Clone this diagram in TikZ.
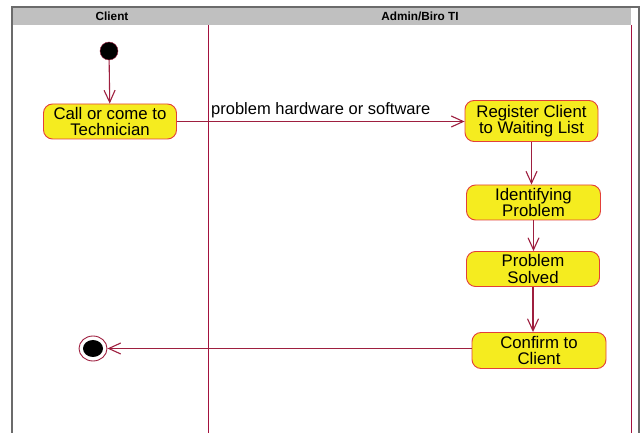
\documentclass[tikz,border=0pt]{standalone}
\usepackage{fontspec}
\setmainfont{Liberation Sans}
\usetikzlibrary{arrows.meta,positioning,shapes.geometric}
\definecolor{lanered}{HTML}{A3123E}
\definecolor{flowred}{HTML}{9E1F3F}
\definecolor{boxyellow}{HTML}{F5EC1F}
\definecolor{boxborder}{HTML}{E2403A}
\definecolor{headgray}{HTML}{C0C0C0}
\definecolor{framegray}{HTML}{6B6B6B}

\begin{document}
\begin{tikzpicture}[x=1pt,y=-1pt,
    activity/.style={rectangle, rounded corners=9pt, draw=boxborder, fill=boxyellow, line width=0.9pt,
      minimum width=133pt, minimum height=35pt, align=center, inner sep=0pt,
      font=\fontsize{16.8}{16.5}\selectfont},
    flow/.style={draw=flowred, line width=1.1pt, -{Straight Barb[length=12pt,width=11pt,line width=1.1pt]}},
    lane/.style={draw=lanered, line width=1pt},
    lanehead/.style={font=\bfseries\fontsize{11.8}{12}\selectfont}]
    \useasboundingbox (0,0) rectangle (641,433);
    \fill[headgray] (12,7) rectangle (631,25);
    \draw[framegray, line width=1.5pt] (12,433) -- (12,7) -- (639,7) -- (639,433);
    \node[lanehead] (clienthead) at (112,16) {Client};
    \node[lanehead] (adminhead) at (420,16) {Admin/Biro TI};
    \draw[lane] (208,25) -- (208,433);
    \draw[lane] (631,25) -- (631,433);

    \node[circle, fill=black, draw=flowred, minimum size=18pt, inner sep=0pt] (start) at (109,51) {};
    \node[activity] (call) at (110,121.5) {Call or come to\\Technician};
    \node[activity, minimum height=41pt] (register) at (531.5,121) {Register Client\\to Waiting List};
    \node[activity, minimum width=134pt] (identify) at (533.5,202.5) {Identifying\\Problem};
    \node[activity] (solved) at (533,269) {Problem\\Solved};
    \node[activity, minimum width=134pt, minimum height=36pt] (confirm) at (539,350.5) {Confirm to\\Client};
    \node[ellipse, draw=flowred, fill=white, line width=0.9pt, minimum width=28pt, minimum height=25pt, inner sep=0pt] (finish) at (93,348.5) {};
    \node[ellipse, fill=black, minimum width=20pt, minimum height=17pt, inner sep=0pt] (finishdot) at (finish) {};

    \draw[flow] (start) -- (call);
    \draw[flow] (call) -- node[above, inner sep=3pt, font=\fontsize{16.5}{16}\selectfont] {problem hardware or software} (call -| register.west);
    \draw[flow] (register) -- (register |- identify.north);
    \draw[flow] (identify) -- (identify |- solved.north);
    \draw[flow] (solved) -- (solved |- confirm.north);
    \draw[flow] (confirm.west |- finish) -- (finish);
\end{tikzpicture}
\end{document}
